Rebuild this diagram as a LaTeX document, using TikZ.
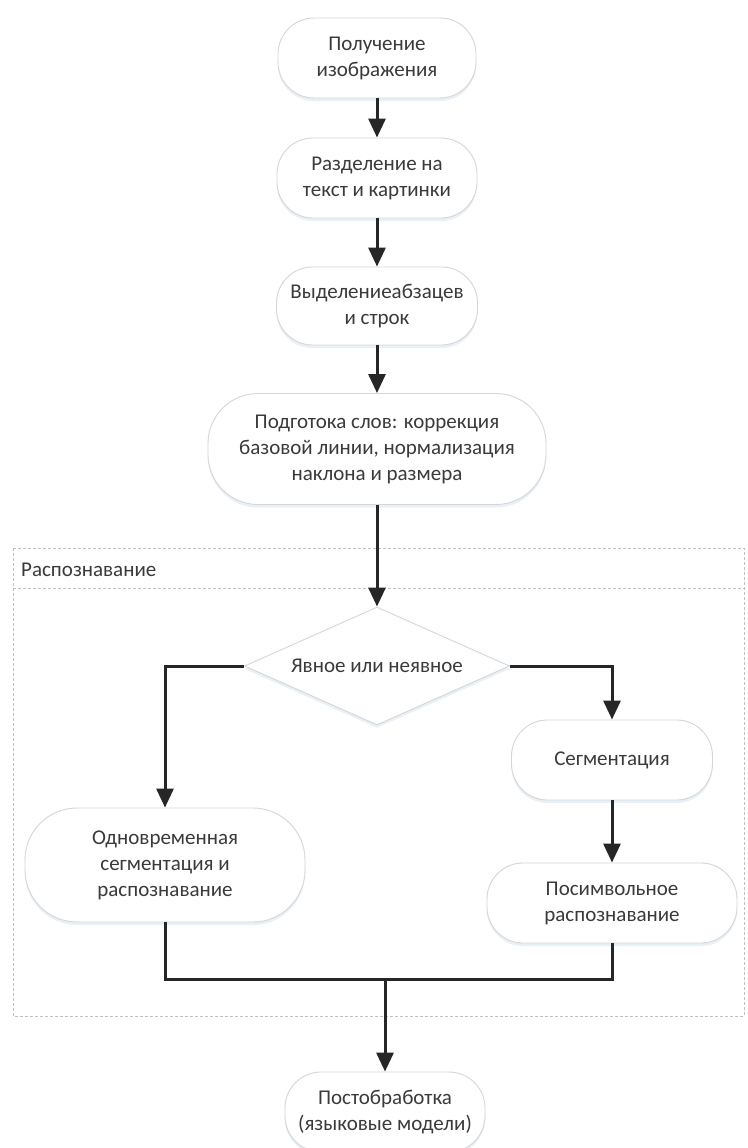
\documentclass[tikz,border=0pt]{standalone}
\usepackage{fontspec}
\setmainfont{Carlito}
\usetikzlibrary{arrows.meta,shapes.geometric,shadows}
\definecolor{txt}{HTML}{3A3A3A}
\definecolor{edge}{HTML}{D4D6D8}
\definecolor{shd}{HTML}{A9C4DC}
\tikzset{
  boxnode/.style={rectangle, draw=edge, line width=0.9pt, fill=white, text=txt,
    rounded corners=36pt, align=center, inner sep=2pt,
    font=\fontsize{21}{26}\selectfont,
    drop shadow={shadow xshift=0pt, shadow yshift=-3pt, opacity=0.25, fill=shd}},
  decnode/.style={diamond, draw=edge, line width=0.9pt, fill=white, text=txt,
    inner sep=0pt, aspect=2.25, font=\fontsize{21}{26}\selectfont,
    drop shadow={shadow xshift=0pt, shadow yshift=-3pt, opacity=0.25, fill=shd}},
  arr/.style={line width=3pt, black!85, -{Triangle[length=19pt,width=17pt]}},
  ln/.style={line width=3pt, black!85},
  frame/.style={draw=black!25, line width=1pt, dash pattern=on 3pt off 2pt},
}
\begin{document}
\begin{tikzpicture}[x=1pt,y=-1pt]
\clip (0,0) rectangle (747,1148);
\fill[white] (0,0) rectangle (747,1148);
% container
\draw[frame] (13,548) rectangle (744,1016);
\draw[frame] (13,588) -- (744,588);
\node[anchor=west, text=txt, font=\fontsize{21}{26}\selectfont, inner sep=0pt] (lbl) at (21,570) {Распознавание};
% nodes
\node[boxnode, minimum width=198pt, minimum height=80pt] (n1) at (377,58) {Получение\\изображения};
\node[boxnode, minimum width=200pt, minimum height=80pt] (n2) at (377,178) {Разделение на\\текст и картинки};
\node[boxnode, minimum width=201pt, minimum height=78pt] (n3) at (377,306) {Выделениеабзацев\\и строк};
\node[boxnode, minimum width=338pt, minimum height=111pt, rounded corners=50pt] (n4) at (377,449) {Подготока слов: коррекция\\базовой линии, нормализация\\наклона и размера};
\node[decnode, minimum width=265pt, minimum height=118pt] (dec) at (377,666) {Явное или неявное};
\node[boxnode, minimum width=280pt, minimum height=114pt, rounded corners=52pt] (sim) at (165,865) {Одновременная\\сегментация и\\распознавание};
\node[boxnode, minimum width=201pt, minimum height=80pt] (seg) at (612,760) {Сегментация};
\node[boxnode, minimum width=250pt, minimum height=80pt] (sym) at (612,903) {Посимвольное\\распознавание};
\node[boxnode, minimum width=200pt, minimum height=80pt] (post) at (385,1112) {Постобработка\\(языковые модели)};
\coordinate (m) at (385,979);
% connectors
\draw[arr] (n1) -- (n2);
\draw[arr] (n2) -- (n3);
\draw[arr] (n3) -- (n4);
\draw[arr] (n4) -- (dec);
\draw[arr] (dec.west) -| (sim.north);
\draw[arr] (dec.east) -| (seg.north);
\draw[arr] (seg) -- (sym);
\draw[ln] (sim.south) |- (m) -| (sym.south);
\draw[arr] (m) -- (post);
\end{tikzpicture}
\end{document}
